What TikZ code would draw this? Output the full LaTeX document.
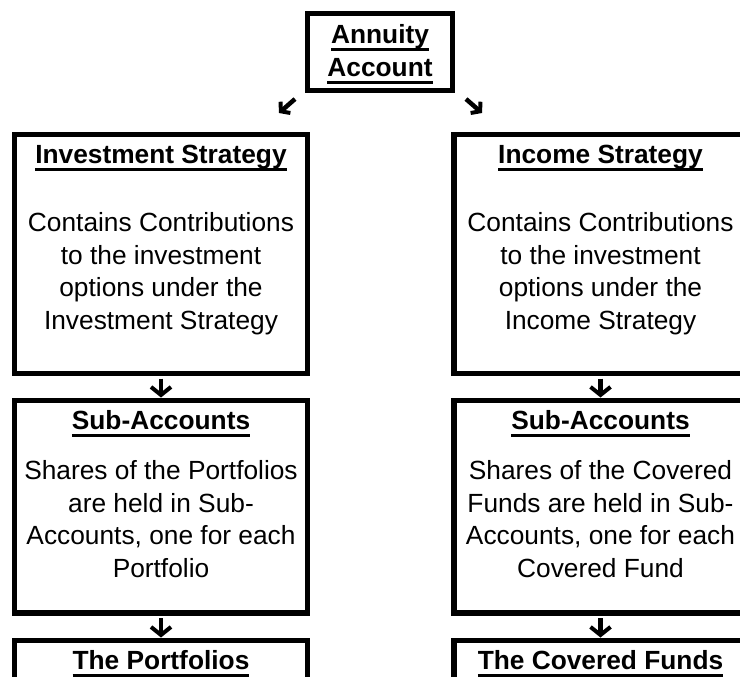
\documentclass[tikz,border=0pt]{standalone}
\usepackage{fontspec}
\setmainfont{Liberation Sans}
\usetikzlibrary{arrows.meta}
\newcommand\ulbox[1]{\setbox0\hbox{#1}\rlap{\rule[-7pt]{\wd0}{3pt}}\box0}
\begin{document}
\begin{tikzpicture}[x=1pt,y={(0pt,-1pt)}]
\clip (0,0) rectangle (740,677);
\tikzset{
  box/.style={draw, line width=5.5pt, anchor=north west, inner sep=0pt, outer sep=0pt, minimum width=293pt},
  txt/.style={font=\fontsize{26.3}{32}\selectfont, anchor=base, inner sep=0pt},
  ttl/.style={font=\fontsize{26.3}{32}\selectfont\bfseries, anchor=base, inner sep=0pt},
  darrow/.style={line width=4.5pt, -{Straight Barb[length=8pt,width=20pt,line width=4pt]}},
  sarrow/.style={line width=4.5pt, -{Straight Barb[length=6pt,width=15pt,line width=4pt]}}
}
% boxes
\node[box, minimum width=145pt, minimum height=77pt] (top) at (307.5,13.5) {};
\node[box, minimum height=239pt] (L1) at (14.5,134.5) {};
\node[box, minimum height=239pt] (R1) at (454,134.5) {};
\node[box, minimum height=212.5pt] (L2) at (14.5,400.5) {};
\node[box, minimum height=212.5pt] (R2) at (454,400.5) {};
\node[box, minimum height=100pt] (L3) at (14.5,640.5) {};
\node[box, minimum height=100pt] (R3) at (454,640.5) {};
% top text
\node[ttl] (a1) at (380,44) {\ulbox{Annuity}};
\node[ttl] (a2) at (380,77) {\ulbox{Account}};
% titles
\node[ttl] (l1t) at (161,164) {\ulbox{Investment Strategy}};
\node[ttl] (r1t) at (600.5,164) {\ulbox{Income Strategy}};
\node[ttl] (l2t) at (161,429.5) {\ulbox{Sub-Accounts}};
\node[ttl] (r2t) at (600.5,429.5) {\ulbox{Sub-Accounts}};
\node[ttl] (l3t) at (161,669.5) {\ulbox{The Portfolios}};
\node[ttl] (r3t) at (600.5,669.5) {\ulbox{The Covered Funds}};
% bodies
\foreach \t [count=\i] in {Contains Contributions, to the investment, options under the, Investment Strategy}
  \node[txt] (l1b\i) at (161,199+32.5*\i) {\t};
\foreach \t [count=\i] in {Contains Contributions, to the investment, options under the, Income Strategy}
  \node[txt] (r1b\i) at (600.5,199+32.5*\i) {\t};
\foreach \t [count=\i] in {Shares of the Portfolios, are held in Sub-, {Accounts, one for each}, Portfolio}
  \node[txt] (l2b\i) at (161,447+32.5*\i) {\t};
\foreach \t [count=\i] in {Shares of the Covered, Funds are held in Sub-, {Accounts, one for each}, Covered Fund}
  \node[txt] (r2b\i) at (600.5,447+32.5*\i) {\t};
% arrows
\draw[darrow, shorten <=5pt, shorten >=3pt] (L1.south) -- (L2.north);
\draw[darrow, shorten <=5pt, shorten >=3pt] (R1.south) -- (R2.north);
\draw[darrow, shorten <=5pt, shorten >=3pt] (L2.south) -- (L3.north);
\draw[darrow, shorten <=5pt, shorten >=3pt] (R2.south) -- (R3.north);
\coordinate (swA) at (295,99);
\coordinate (swB) at (279,113);
\coordinate (seA) at (466,99);
\coordinate (seB) at (482,113);
\draw[sarrow] (swA) -- (swB);
\draw[sarrow] (seA) -- (seB);
\end{tikzpicture}
\end{document}
